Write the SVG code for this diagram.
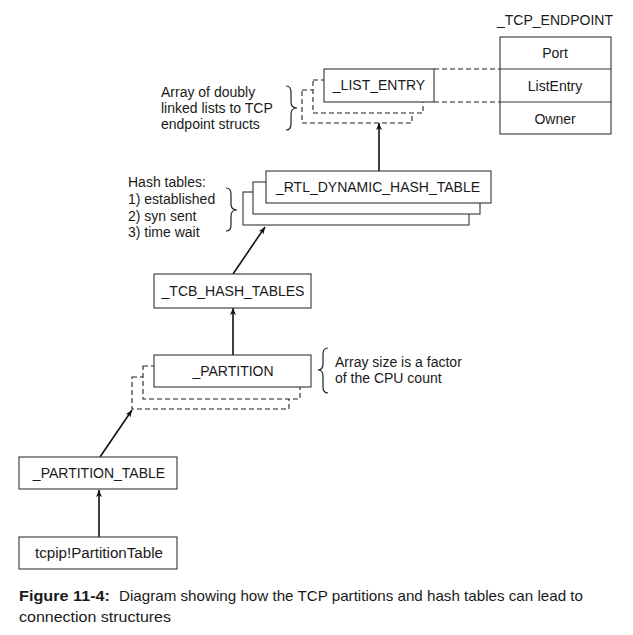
<svg xmlns="http://www.w3.org/2000/svg" width="633" height="635" viewBox="0 0 633 635">
<defs>
<style>
.box{fill:#fff;stroke:#333;stroke-width:1.1}
.dbox{fill:#fff;stroke:#222;stroke-width:1.1;stroke-dasharray:5,3}
.t{font-family:"Liberation Sans",Arial,sans-serif;font-size:14px;fill:#1a1a1a}
.c{text-anchor:middle}
.cap{font-family:"Liberation Sans",Arial,sans-serif;font-size:15px;fill:#1a1a1a}
.edge{fill:none;stroke:#111;stroke-width:1.6}
.dash{fill:none;stroke:#222;stroke-width:1.1;stroke-dasharray:5,3}
.brace{fill:none;stroke:#222;stroke-width:1.2}
</style>
<marker id="arr" viewBox="0 0 10 10" refX="10" refY="5" markerWidth="7" markerHeight="7" markerUnits="userSpaceOnUse" orient="auto">
<path d="M0,0.8 L10,5 L0,9.2 L2.5,5 Z" fill="#111"/>
</marker>
</defs>
<rect width="633" height="635" fill="#fff"/>

<g id="connectors">
<line class="edge" x1="99" y1="537" x2="99" y2="490" marker-end="url(#arr)"/>
<line class="edge" x1="100" y1="457" x2="132" y2="410" marker-end="url(#arr)"/>
<line class="edge" x1="233" y1="355" x2="233" y2="308" marker-end="url(#arr)"/>
<line class="edge" x1="233" y1="274" x2="265" y2="227" marker-end="url(#arr)"/>
<line class="edge" x1="379" y1="171" x2="379" y2="123" marker-end="url(#arr)"/>
<line class="dash" x1="434" y1="69" x2="500" y2="69"/>
<line class="dash" x1="434" y1="102" x2="500" y2="102"/>
</g>

<g id="tcp_endpoint">
<text class="t c" x="555" y="25">_TCP_ENDPOINT</text>
<rect class="box" x="500" y="37" width="111" height="97"/>
<line x1="500" y1="69" x2="611" y2="69" stroke="#333" stroke-width="1.1"/>
<line x1="500" y1="102" x2="611" y2="102" stroke="#333" stroke-width="1.1"/>
<text class="t c" x="555" y="58">Port</text>
<text class="t c" x="555" y="91">ListEntry</text>
<text class="t c" x="555" y="124">Owner</text>
</g>

<g id="list_entry">
<rect class="dbox" x="302" y="90" width="110" height="33"/>
<rect class="dbox" x="313" y="80" width="110" height="33"/>
<rect class="box" x="324" y="69" width="110" height="33"/>
<text class="t c" x="379" y="90">_LIST_ENTRY</text>
</g>

<g id="list_entry_note">
<path class="brace" d="M286,86 Q291,86 291,92 L291,102 Q291,108 297,108 Q291,108 291,114 L291,124 Q291,130 286,130"/>
<text class="t" x="161" y="97">Array of doubly</text>
<text class="t" x="161" y="113">linked lists to TCP</text>
<text class="t" x="161" y="129">endpoint structs</text>
</g>

<g id="rtl_dynamic_hash_table">
<rect class="box" x="243" y="192" width="226" height="33"/>
<rect class="box" x="253" y="182" width="227" height="32"/>
<rect class="box" x="266" y="171" width="225" height="32"/>
<text class="t c" x="378" y="192">_RTL_DYNAMIC_HASH_TABLE</text>
</g>

<g id="hash_note">
<path class="brace" d="M226,188 Q231,188 231,194 L231,204 Q231,210 237,210 Q231,210 231,216 L231,225 Q231,231 226,231"/>
<text class="t" x="128" y="187">Hash tables:</text>
<text class="t" x="128" y="204">1) established</text>
<text class="t" x="128" y="221">2) syn sent</text>
<text class="t" x="128" y="237">3) time wait</text>
</g>

<g id="tcb_hash_tables">
<rect class="box" x="154" y="274" width="157" height="34"/>
<text class="t c" x="233" y="296">_TCB_HASH_TABLES</text>
</g>

<g id="partition">
<rect class="dbox" x="132" y="377" width="157" height="32"/>
<rect class="dbox" x="143" y="366" width="157" height="33"/>
<rect class="box" x="154" y="355" width="157" height="32"/>
<text class="t c" x="233" y="376">_PARTITION</text>
</g>

<g id="partition_note">
<path class="brace" d="M328,348 Q323,348 323,354 L323,364 Q323,370 318,370 Q323,370 323,376 L323,387 Q323,393 328,393"/>
<text class="t" x="335" y="367">Array size is a factor</text>
<text class="t" x="335" y="383">of the CPU count</text>
</g>

<g id="partition_table">
<rect class="box" x="19" y="457" width="158" height="32"/>
<text class="t c" x="99" y="478">_PARTITION_TABLE</text>
</g>

<g id="tcpip_partitiontable">
<rect class="box" x="19" y="537" width="158" height="32"/>
<text class="t c" x="99" y="558" textLength="128" lengthAdjust="spacingAndGlyphs">tcpip!PartitionTable</text>
</g>

<g id="caption">
<text class="cap" x="19" y="601" font-weight="bold" textLength="91" lengthAdjust="spacingAndGlyphs">Figure 11-4:</text>
<text class="cap" x="119" y="601" textLength="464" lengthAdjust="spacingAndGlyphs">Diagram showing how the TCP partitions and hash tables can lead to</text>
<text class="cap" x="19" y="622" textLength="152" lengthAdjust="spacingAndGlyphs">connection structures</text>
</g>
</svg>
